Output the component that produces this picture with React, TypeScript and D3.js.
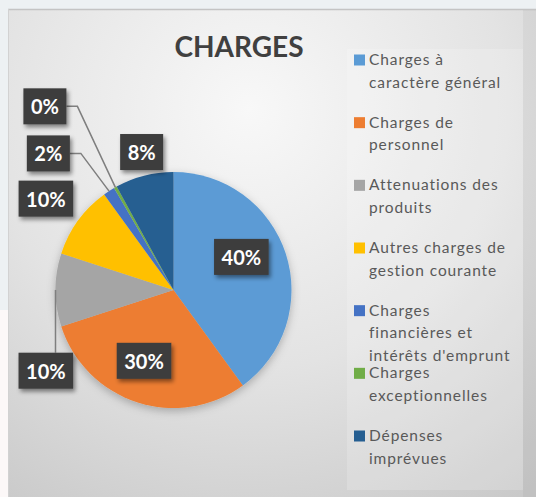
import React, { useEffect, useRef } from 'react'
import * as d3 from 'd3'

// chart data
const categories = [
  'Charges à caractère général',
  'Charges de personnel',
  'Attenuations des produits',
  'Autres charges de gestion courante',
  'Charges financières et intérêts d\'emprunt',
  'Charges exceptionnelles',
  'Dépenses imprévues',
]
const legendLines = [
  ['Charges à', 'caractère général'],
  ['Charges de', 'personnel'],
  ['Attenuations des', 'produits'],
  ['Autres charges de', 'gestion courante'],
  ['Charges', 'financières et', 'intérêts d\'emprunt'],
  ['Charges', 'exceptionnelles'],
  ['Dépenses', 'imprévues'],
]
const values = [40, 30, 10, 10, 1.6, 0.4, 8]
const colors = ['#5b9bd5', '#ed7d31', '#a5a5a5', '#ffc000', '#4472c4', '#70ad47', '#255e91']
const title = 'CHARGES'

// label placement: [angle in degrees from 12 o'clock, distance as a fraction of the radius]
const labelPolar: [number, number][] = [
  [64, 0.64], [202.6, 0.65], [237.7, 1.28], [305.6, 1.33], [317.5, 1.57], [325, 1.9], [347, 1.2],
]
const hasLeader = [false, false, true, false, true, true, false]

const W = 536
const H = 497

const App: React.FC = () => {
  const svgRef = useRef<SVGSVGElement>(null)

  useEffect(() => {
    const svg = d3.select(svgRef.current)
    svg.selectAll('*').remove()

    const cx = 173.5
    const cy = 290
    const R = 118

    const defs = svg.append('defs')
    const grad = defs.append('radialGradient')
      .attr('id', 'bg')
      .attr('gradientUnits', 'userSpaceOnUse')
      .attr('cx', 250).attr('cy', 110).attr('r', 470)
    grad.append('stop').attr('offset', '0%').attr('stop-color', '#f8f8f8')
    grad.append('stop').attr('offset', '55%').attr('stop-color', '#e3e3e3')
    grad.append('stop').attr('offset', '100%').attr('stop-color', '#c9c9c9')

    const pieShadow = defs.append('filter').attr('id', 'pieShadow')
      .attr('x', '-20%').attr('y', '-20%').attr('width', '140%').attr('height', '140%')
    pieShadow.append('feDropShadow')
      .attr('dx', 0).attr('dy', 3).attr('stdDeviation', 4)
      .attr('flood-color', '#000').attr('flood-opacity', 0.25)

    const boxShadow = defs.append('filter').attr('id', 'boxShadow')
      .attr('x', '-30%').attr('y', '-30%').attr('width', '160%').attr('height', '160%')
    boxShadow.append('feDropShadow')
      .attr('dx', 2).attr('dy', 3).attr('stdDeviation', 2)
      .attr('flood-color', '#000').attr('flood-opacity', 0.45)

    // page + chart panel
    svg.append('rect').attr('width', W).attr('height', H).attr('fill', '#edf1f3')
    svg.append('rect').attr('x', 0).attr('y', 310).attr('width', 8).attr('height', H - 310).attr('fill', '#fcf8f8')
    svg.append('rect').attr('x', 8).attr('y', 9).attr('width', W - 8).attr('height', H - 9).attr('fill', 'url(#bg)')
    svg.append('line').attr('x1', 8).attr('x2', W).attr('y1', 9.5).attr('y2', 9.5)
      .attr('stroke', '#c4c4c4').attr('stroke-width', 1.5)
    svg.append('line').attr('x1', 8.5).attr('x2', 8.5).attr('y1', 9).attr('y2', H)
      .attr('stroke', '#d2d2d2').attr('stroke-width', 1)
    svg.append('rect').attr('x', 523).attr('y', 10).attr('width', W - 523).attr('height', H - 10)
      .attr('fill', '#000').attr('opacity', 0.04)

    // title
    svg.append('text')
      .attr('x', 239).attr('y', 57)
      .attr('text-anchor', 'middle')
      .attr('font-family', 'Lato, sans-serif')
      .attr('font-weight', 700)
      .attr('font-size', 28)
      .attr('fill', '#404040')
      .text(title)

    // pie
    const pie = d3.pie<number>().sort(null).value(d => d)
    const arcs = pie(values)
    const arc = d3.arc<d3.PieArcDatum<number>>().innerRadius(0).outerRadius(R)
    const total = d3.sum(values)
    const pct = d3.format('.0%')

    const g = svg.append('g').attr('transform', `translate(${cx},${cy})`)
    g.append('g').attr('filter', 'url(#pieShadow)')
      .selectAll('path')
      .data(arcs)
      .join('path')
      .attr('d', arc)
      .attr('fill', (_, i) => colors[i])

    const polar = (a: number, r: number): [number, number] => [r * Math.sin(a), -r * Math.cos(a)]

    // data labels
    const labels = g.append('g')
    arcs.forEach((d, i) => {
      const [deg, frac] = labelPolar[i]
      const [lx, ly] = polar((deg * Math.PI) / 180, frac * R)
      const grp = labels.append('g')
      const rect = grp.append('rect')
      const txt = grp.append('text')
        .attr('x', lx).attr('y', ly)
        .attr('text-anchor', 'middle')
        .attr('dominant-baseline', 'central')
        .attr('font-family', 'Lato, sans-serif')
        .attr('font-weight', 700)
        .attr('font-size', 20)
        .attr('fill', '#ffffff')
        .text(pct(d.value / total))
      const tw = (txt.node() as SVGTextElement).getComputedTextLength()
      const bw = tw + 15
      const bh = 36
      rect.attr('x', lx - bw / 2).attr('y', ly - bh / 2)
        .attr('width', bw).attr('height', bh)
        .attr('fill', '#3c3c3c')
        .attr('filter', 'url(#boxShadow)')

      if (hasLeader[i]) {
        const mid = (d.startAngle + d.endAngle) / 2
        const [ex, ey] = polar(mid, R)
        let pts: [number, number][]
        if (ex > lx - bw / 2 && ex < lx + bw / 2) {
          pts = [[ex, ey], [ex, ly - bh / 2]]
        } else {
          const right = lx + bw / 2
          pts = [[ex, ey], [right + 11, ly], [right, ly]]
        }
        labels.insert('path', ':first-child')
          .attr('d', d3.line()(pts))
          .attr('fill', 'none')
          .attr('stroke', '#7f7f7f')
          .attr('stroke-width', 1.5)
      }
    })

    // legend
    svg.append('rect')
      .attr('x', 347).attr('y', 49).attr('width', 176).attr('height', 441)
      .attr('fill', '#ffffff').attr('opacity', 0.18)

    const legendY = d3.scalePoint<number>()
      .domain(d3.range(categories.length))
      .range([60, 436])

    const legend = svg.append('g')
    categories.forEach((c, i) => {
      const y = legendY(i) as number
      const item = legend.append('g').attr('data-name', c)
      item.append('rect')
        .attr('x', 354).attr('y', y - 5.5)
        .attr('width', 11).attr('height', 11)
        .attr('fill', colors[i])
      legendLines[i].forEach((line, j) => {
        item.append('text')
          .attr('x', 369).attr('y', y + 5 + j * 22.5)
          .attr('font-family', 'Lato, sans-serif')
          .attr('font-size', 15.5)
          .attr('letter-spacing', 0.9)
          .attr('fill', '#595959')
          .text(line)
      })
    })
  }, [])

  return (
    <svg
      ref={svgRef}
      width={W}
      height={H}
      style={{ position: 'absolute', left: 0, top: 0 }}
    />
  )
}

export default App
